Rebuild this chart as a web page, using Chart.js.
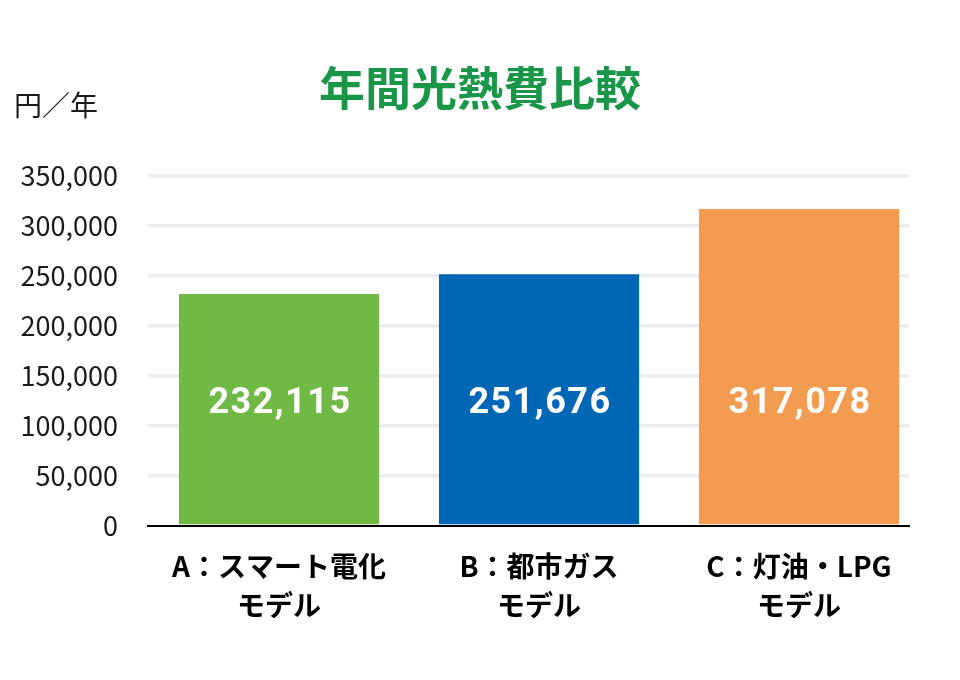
<!DOCTYPE html>
<html lang="ja">
<head>
<meta charset="utf-8">
<script src="https://cdn.jsdelivr.net/npm/chart.js@4/dist/chart.umd.min.js"></script>
<style>
  html, body { margin: 0; padding: 0; background: #fff; }
  #wrap { width: 960px; height: 680px; }
</style>
</head>
<body>
<div id="wrap"><canvas id="chart"></canvas></div>
<script>
// 年間光熱費比較
const titleText = '年間光熱費比較';
const unitText = '円／年';
const categories = [
  ['A：スマート電化', 'モデル'],
  ['B：都市ガス', 'モデル'],
  ['C：灯油・LPG', 'モデル']
];
const costs = [232115, 251676, 317078];
const barColors = ['#70b944', '#0067b6', '#f39b51'];
const yTicks = [0, 50000, 100000, 150000, 200000, 250000, 300000, 350000];

const jp = '"Noto Sans CJK JP", "Noto Sans", sans-serif';

// タイトル・単位ラベル・バー内の数値
const labelsPlugin = {
  id: 'labels',
  afterDatasetsDraw(chart) {
    const { ctx } = chart;
    const y = chart.scales.y;
    ctx.save();
    ctx.textBaseline = 'middle';

    ctx.fillStyle = '#1a9648';
    ctx.font = 'bold 46px ' + jp;
    ctx.textAlign = 'center';
    ctx.fillText(titleText, chart.width / 2, 88);

    ctx.fillStyle = '#1a1a1a';
    ctx.font = '28px ' + jp;
    ctx.textAlign = 'left';
    ctx.fillText(unitText, 14, 105);

    const meta = chart.getDatasetMeta(0);
    ctx.fillStyle = '#ffffff';
    ctx.font = 'bold 36px Roboto, ' + jp;
    ctx.textAlign = 'center';
    ctx.letterSpacing = '1.5px';
    meta.data.forEach((bar, i) => {
      ctx.fillText(costs[i].toLocaleString('en-US'), bar.x + 1, y.getPixelForValue(122000));
    });
    ctx.restore();
  }
};

new Chart(document.getElementById('chart'), {
  type: 'bar',
  data: {
    datasets: [{
      data: costs.map((v, i) => ({ x: i, y: v })),
      backgroundColor: barColors,
      borderWidth: 0,
      barPercentage: 0.77,
      categoryPercentage: 1
    }]
  },
  options: {
    responsive: true,
    maintainAspectRatio: false,
    animation: false,
    layout: { padding: { left: 0, right: 51, top: 176, bottom: 0 } },
    plugins: {
      legend: { display: false },
      tooltip: { enabled: false },
      title: { display: false }
    },
    scales: {
      x: {
        type: 'linear',
        offset: false,
        min: -0.504,
        max: 2.423,
        afterBuildTicks: s => { s.ticks = categories.map((_, i) => ({ value: i })); },
        afterFit: s => { s.height = 154; },
        grid: { display: false, offset: false },
        border: { display: true, color: '#000', width: 2 },
        ticks: {
          padding: 13,
          color: '#000',
          font: { family: jp, size: 28, weight: 'bold', lineHeight: 1.39 },
          maxRotation: 0,
          autoSkip: false,
          callback: v => categories[v]
        }
      },
      y: {
        min: 0,
        max: 350000,
        afterBuildTicks: s => { s.ticks = yTicks.map(v => ({ value: v })); },
        afterFit: s => { s.width = 148; },
        grid: {
          drawTicks: false,
          lineWidth: 3.5,
          color: c => (c.tick && c.tick.value === 0 ? 'rgba(0,0,0,0)' : '#ececec')
        },
        border: { display: false },
        ticks: {
          padding: 30,
          color: '#1a1a1a',
          font: { family: jp, size: 27 },
          callback: v => v.toLocaleString('en-US')
        }
      }
    }
  },
  plugins: [labelsPlugin]
});
</script>
</body>
</html>
